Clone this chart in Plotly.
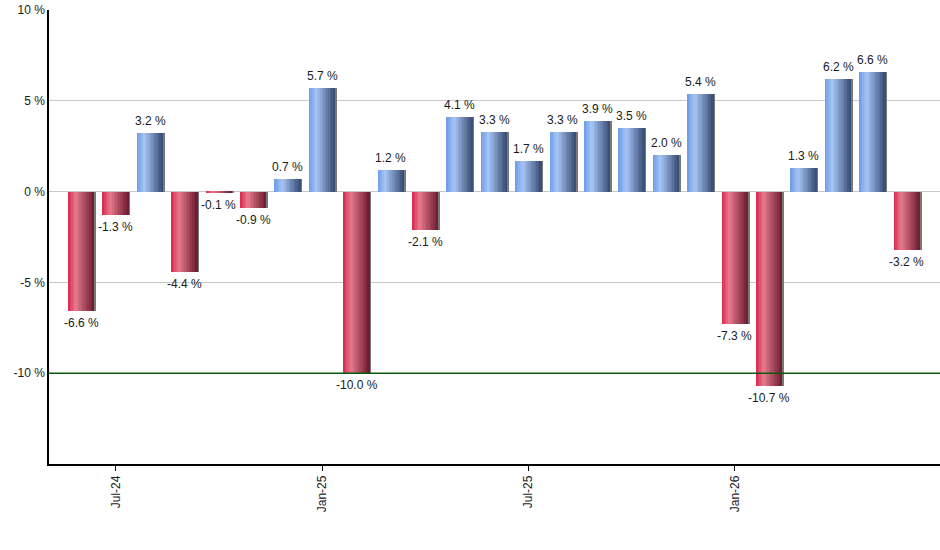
import plotly.graph_objects as go

months = ["Jun-24","Jul-24","Aug-24","Sep-24","Oct-24","Nov-24","Dec-24","Jan-25","Feb-25","Mar-25",
          "Apr-25","May-25","Jun-25","Jul-25","Aug-25","Sep-25","Oct-25","Nov-25","Dec-25","Jan-26",
          "Feb-26","Mar-26","Apr-26","May-26","Jun-26"]
values = [-6.6, -1.3, 3.2, -4.4, -0.1, -0.9, 0.7, 5.7, -10.0, 1.2,
          -2.1, 4.1, 3.3, 1.7, 3.3, 3.9, 3.5, 2.0, 5.4, -7.3,
          -10.7, 1.3, 6.2, 6.6, -3.2]
tick_labels = ["Jul-24", "Jan-25", "Jul-25", "Jan-26"]
y_ticks = [-10, -5, 0, 5, 10]
ref_level = -10

x = list(range(len(values)))
tick_pos = [months.index(t) for t in tick_labels]
x_range = [-0.94, len(values) - 0.04]

# gradient stops (t, rgb)
red_stops = [(0.0, (218, 38, 74)), (0.3, (232, 122, 142)), (1.0, (108, 26, 46))]
blue_stops = [(0.0, (108, 154, 232)), (0.3, (168, 198, 246)), (1.0, (54, 74, 114))]

def interp(stops, t):
    for (t0, c0), (t1, c1) in zip(stops[:-1], stops[1:]):
        if t0 <= t <= t1:
            f = (t - t0) / (t1 - t0) if t1 > t0 else 0
            return "rgb(%d,%d,%d)" % tuple(round(a + (b - a) * f) for a, b in zip(c0, c1))
    return "rgb(%d,%d,%d)" % stops[-1][1]

fig = go.Figure()
# reference line (behind bars, above grid)
fig.add_trace(go.Scatter(x=x_range, y=[ref_level, ref_level], mode="lines",
                         line=dict(color="#0b5a0b", width=1.5), hoverinfo="skip",
                         showlegend=False, cliponaxis=True))
W = 0.75
N = 16
sw = W / N
# shadow
fig.add_trace(go.Bar(x=x, y=values, width=0.06, offset=W / 2 - 0.01,
                     marker=dict(color="rgb(120,120,120)", line=dict(width=0)),
                     hoverinfo="skip", showlegend=False))
for i in range(N):
    t = (i + 0.5) / N
    cols = [interp(blue_stops if v >= 0 else red_stops, t) for v in values]
    fig.add_trace(go.Bar(x=x, y=values, width=sw * 1.08, offset=-W / 2 + i * sw,
                         marker=dict(color=cols, line=dict(width=0)),
                         hoverinfo="skip", showlegend=False))

for xi, v in zip(x, values):
    fig.add_annotation(x=xi, y=v, text="%.1f %%" % v, showarrow=False,
                       yanchor="bottom" if v >= 0 else "top",
                       yshift=3 if v >= 0 else -3,
                       font=dict(family="Liberation Sans, Arial", size=12, color="#1a1a1a"))

fig.update_layout(
    width=940, height=550,
    margin=dict(l=49, r=0, t=10, b=86),
    barmode="overlay", bargap=0,
    plot_bgcolor="white", paper_bgcolor="white",
    font=dict(family="Liberation Sans, Arial", size=12, color="#1a1a1a"),
    xaxis=dict(range=x_range, tickvals=tick_pos, ticktext=tick_labels,
               tickangle=-90, ticks="outside", ticklen=5, tickcolor="black",
               showline=True, linecolor="black", linewidth=1.5, showgrid=False, zeroline=False,
               tickfont=dict(size=12, color="#1a1a1a")),
    yaxis=dict(range=[-15, 10], tickvals=y_ticks, ticktext=["%d %%" % v for v in y_ticks],
               showline=True, linecolor="black", linewidth=1.5, showgrid=True,
               gridcolor="#c8c8c8", gridwidth=1, zeroline=True, zerolinecolor="#c8c8c8",
               zerolinewidth=1, ticks="", tickfont=dict(size=12, color="#1a1a1a")),
)

fig.write_html("out.html")
